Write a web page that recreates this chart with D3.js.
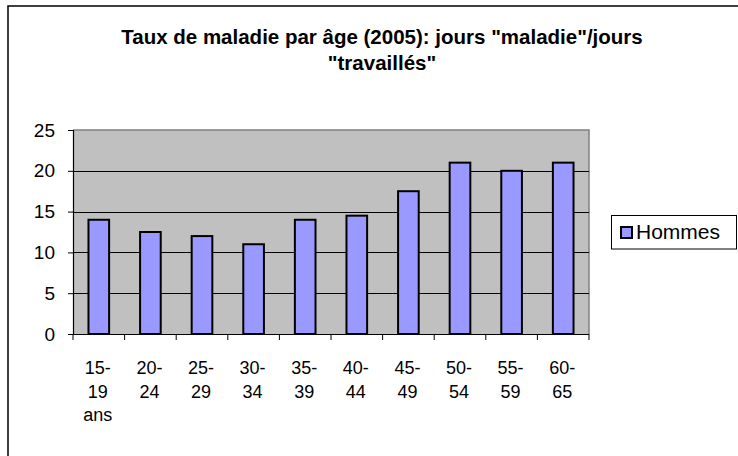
<!DOCTYPE html>
<html>
<head>
<meta charset="utf-8">
<script src="https://cdn.jsdelivr.net/npm/d3@7"></script>
<style>
  html, body { margin: 0; padding: 0; background: #fff; }
  svg { display: block; font-family: "Liberation Sans", Arial, sans-serif; }
</style>
</head>
<body>
<svg id="chart" width="738" height="456"></svg>
<script>
const categories = [["15-", "19", "ans"], ["20-", "24"], ["25-", "29"], ["30-", "34"], ["35-", "39"],
                    ["40-", "44"], ["45-", "49"], ["50-", "54"], ["55-", "59"], ["60-", "65"]];
const categoryNames = ["15-19 ans", "20-24", "25-29", "30-34", "35-39", "40-44", "45-49", "50-54", "55-59", "60-65"];
const hommes = [14, 12.5, 12, 11, 14, 14.5, 17.5, 21, 20, 21];
const yTicks = [0, 5, 10, 15, 20, 25];
const seriesName = "Hommes";
const titleLines = ["Taux de maladie par âge (2005): jours \"maladie\"/jours", "\"travaillés\""];

(function () {
const svg = d3.select("#chart");
const pLeft = 73, pRight = 589, pTop = 130, pBottom = 334;

// outer chart border (clipped at right/bottom as in reference)
svg.append("rect").attr("x", 8).attr("y", 6).attr("width", 760).attr("height", 470)
  .attr("fill", "#fff").attr("stroke", "#000").attr("stroke-width", 1.5);

// title
svg.append("g").selectAll("text").data(titleLines).join("text")
  .attr("x", 382).attr("y", (d, i) => 44 + i * 26)
  .attr("text-anchor", "middle").attr("font-weight", "bold").attr("font-size", 20.5)
  .attr("fill", "#000").text(d => d);

const x = d3.scaleBand().domain(categoryNames).range([pLeft, pRight]).paddingInner(0.6).paddingOuter(0.3);
const y = d3.scaleLinear().domain([0, 25]).range([pBottom, pTop]);

// plot area background
svg.append("rect").attr("x", pLeft).attr("y", pTop).attr("width", pRight - pLeft).attr("height", pBottom - pTop)
  .attr("fill", "#C0C0C0");
svg.append("path").attr("d", `M${pLeft},${pTop}H${pRight}V${pBottom}`)
  .attr("fill", "none").attr("stroke", "#808080").attr("stroke-width", 1.5);

// gridlines
svg.append("g").selectAll("line").data(yTicks.filter(t => t > 0 && t < 25)).join("line")
  .attr("x1", pLeft).attr("x2", pRight).attr("y1", d => Math.round(y(d)) + 0.5).attr("y2", d => Math.round(y(d)) + 0.5)
  .attr("stroke", "#000").attr("stroke-width", 1);

// bars
svg.append("g").selectAll("rect").data(hommes).join("rect")
  .attr("x", (d, i) => x(categoryNames[i]))
  .attr("y", d => y(d))
  .attr("width", x.bandwidth())
  .attr("height", d => y(0) - y(d))
  .attr("fill", "#9999FF").attr("stroke", "#000").attr("stroke-width", 2);

// y axis
const yAxis = d3.axisLeft(y).tickValues(yTicks).tickSize(5).tickPadding(13);
const gy = svg.append("g").attr("transform", `translate(${pLeft},0)`).call(yAxis);
gy.select(".domain").attr("stroke", "#000").attr("stroke-width", 1.2);
gy.selectAll(".tick line").attr("stroke", "#000");
gy.selectAll(".tick text").attr("font-size", 19).attr("fill", "#000")
  .attr("font-family", "Liberation Sans, Arial, sans-serif");

// x axis line and ticks at category boundaries
svg.append("line").attr("x1", pLeft).attr("x2", pRight).attr("y1", pBottom + 0.5).attr("y2", pBottom + 0.5)
  .attr("stroke", "#000").attr("stroke-width", 1.2);
svg.append("g").selectAll("line").data(d3.range(categoryNames.length + 1)).join("line")
  .attr("x1", i => pLeft + i * x.step())
  .attr("x2", i => pLeft + i * x.step())
  .attr("y1", pBottom).attr("y2", pBottom + 6)
  .attr("stroke", "#000").attr("stroke-width", 1);

// x labels (wrapped)
const lbl = svg.append("g").selectAll("text").data(categories).join("text")
  .attr("font-size", 18).attr("fill", "#000").attr("text-anchor", "middle");
lbl.each(function(lines, i) {
  const cx = x(categoryNames[i]) + x.bandwidth() / 2 - 1;
  d3.select(this).selectAll("tspan").data(lines).join("tspan")
    .attr("x", cx).attr("y", (d, j) => 374 + j * 23.5).text(d => d);
});

// legend
svg.append("rect").attr("x", 611.5).attr("y", 215.5).attr("width", 125).attr("height", 33.5)
  .attr("fill", "#fff").attr("stroke", "#000").attr("stroke-width", 1);
svg.append("rect").attr("x", 621).attr("y", 227).attr("width", 11).attr("height", 11)
  .attr("fill", "#9999FF").attr("stroke", "#000").attr("stroke-width", 2);
svg.append("text").attr("x", 636).attr("y", 239).attr("font-size", 21).attr("fill", "#000").text(seriesName);
})();
</script>
</body>
</html>
